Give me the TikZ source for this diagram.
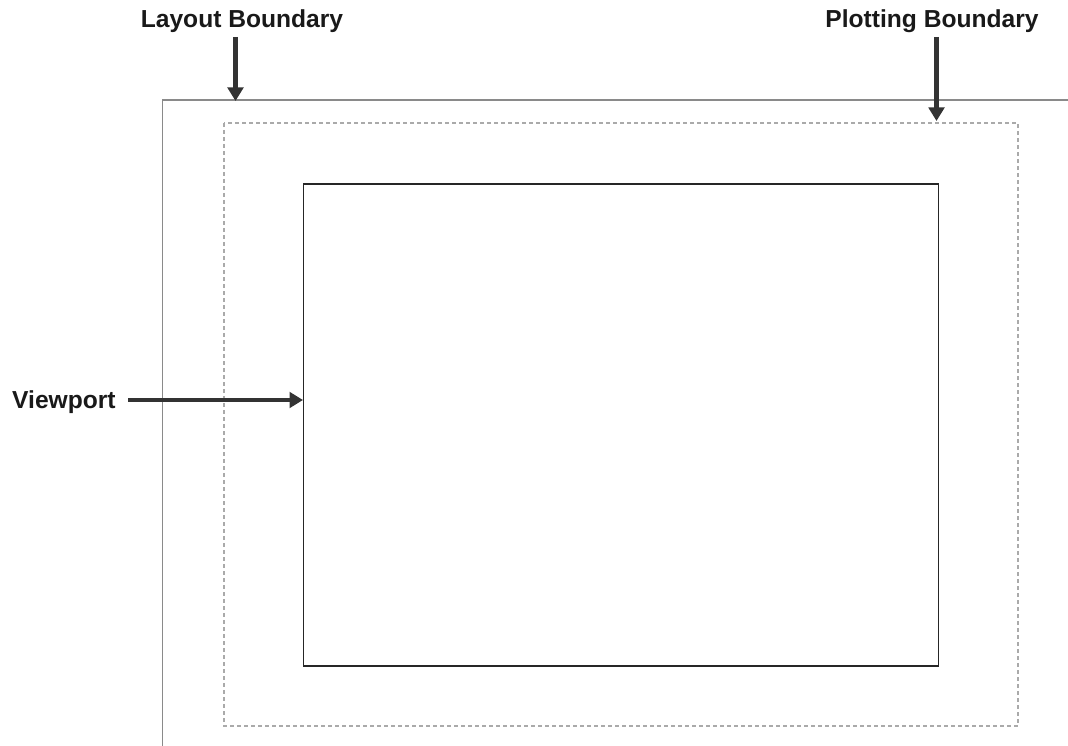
\documentclass[tikz,border=0pt]{standalone}
\usepackage{fontspec}
\setmainfont{Liberation Sans}
\usetikzlibrary{arrows.meta}
\definecolor{arrowgray}{HTML}{333333}
\definecolor{layoutgray}{HTML}{8A8A8A}
\definecolor{dashgray}{HTML}{AAAAAA}
\definecolor{vpblack}{HTML}{262626}
\tikzset{
  lbl/.style={font=\fontsize{24.6}{28}\selectfont\bfseries, inner sep=0pt, anchor=base, text=black!90},
  pointer/.style={draw=arrowgray, line width=4.7pt, -{Triangle[width=15.5pt,length=13.5pt]}},
  layoutline/.style={draw=layoutgray, line width=1.3pt},
  plotbox/.style={draw=dashgray, line width=1.1pt, dash pattern=on 4pt off 3pt},
  viewbox/.style={draw=vpblack, line width=1.3pt}
}
\begin{document}
\begin{tikzpicture}[x=1pt,y=-1pt]
\useasboundingbox (0,0) rectangle (1068,746);
% layout boundary
\coordinate (lay-tl) at (162.5,100);
\draw[layoutline] (162.5,746) -- (lay-tl) -- (1068,100);
% plotting boundary
\coordinate (plot-tl) at (224,123);
\coordinate (plot-br) at (1018,726);
\draw[plotbox] (plot-tl) rectangle (plot-br);
% viewport
\coordinate (vp-tl) at (303.5,184);
\coordinate (vp-br) at (938.5,666);
\draw[viewbox] (vp-tl) rectangle (vp-br);
% labels
\node[lbl] (lbl-layout) at (242,28) {Layout Boundary};
\node[lbl] (lbl-plot) at (932,28) {Plotting Boundary};
\node[lbl, anchor=base west] (lbl-vp) at (12,408) {Viewport};
% arrow ends
\coordinate (layout-tip) at (235.5,101);
\coordinate (plot-tip) at (936.5,121);
\coordinate (vp-tip) at (303,400);
\coordinate (layout-start) at (235.5,37);
\coordinate (plot-start) at (936.5,37);
\coordinate (vp-start) at (128,400);
\draw[pointer] (layout-start) -- (layout-tip);
\draw[pointer] (plot-start) -- (plot-tip);
\draw[pointer] (vp-start) -- (vp-tip);
\end{tikzpicture}
\end{document}
